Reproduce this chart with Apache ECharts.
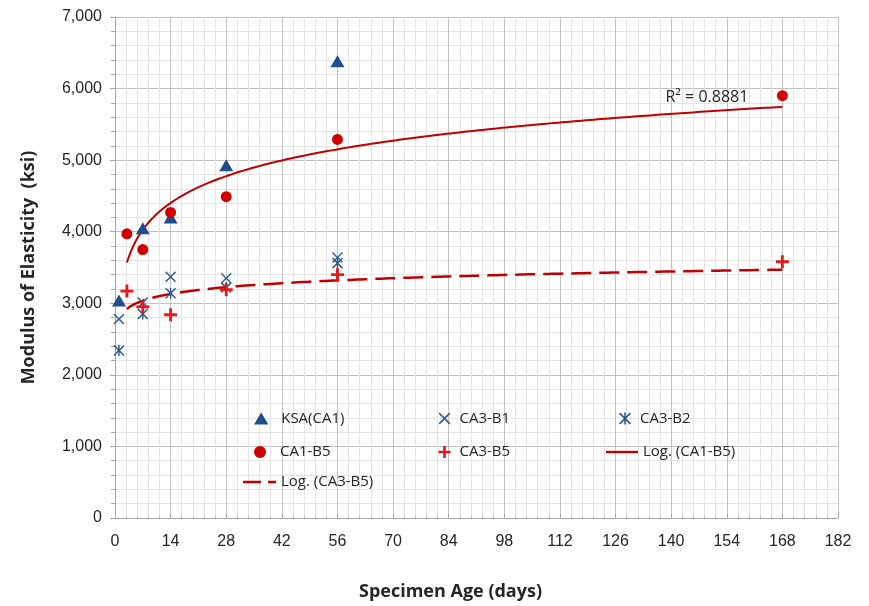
<!DOCTYPE html>
<html>
<head>
<meta charset="utf-8">
<script src="https://cdn.jsdelivr.net/npm/echarts@6/dist/echarts.min.js"></script>
<style>
  html, body { margin: 0; background: #fff; }
  #main { width: 869px; height: 606px; }
</style>
</head>
<body>
<div id="main"></div>
<script>
// data: [age in days, modulus in ksi]
const ksaCA1 = [[1, 3040], [7, 4050], [14, 4200], [28, 4930], [56, 6380]];
const ca1B5 = [[3, 3970], [7, 3750], [14, 4270], [28, 4490], [56, 5290], [168, 5900]];
const ca3B1 = [[1, 2780], [7, 3010], [14, 3370], [28, 3350], [56, 3640]];
const ca3B2 = [[1, 2340], [7, 2850], [14, 3140], [28, 3220], [56, 3560]];
const ca3B5 = [[3, 3170], [7, 2950], [14, 2840], [28, 3190], [56, 3400], [168, 3580]];

// log trendlines y = a*ln(x) + b, coefficients
const trendCA1B5 = { a: 540.4, b: 2976, from: 3, to: 168 };
const trendCA3B5 = { a: 136.1, b: 2772, from: 3, to: 168 };
const r2Label = 'R² = 0.8881';

const xTicks = { min: 0, max: 182, step: 14 };
const yTicks = { min: 0, max: 7000, step: 1000 };

function logCurve(t) {
  const pts = [];
  for (let x = t.from; x <= t.to; x += 0.5) {
    pts.push([x, t.a * Math.log(x) + t.b]);
  }
  return pts;
}

const TRI_PATH = 'path://M6,0L12,10L0,10Z';
const X_PATH = 'path://M1,0L5,4L9,0L10,1L6,5L10,9L9,10L5,6L1,10L0,9L4,5L0,1Z';
const STAR_PATH = 'path://M1,0L5,4L9,0L10,1L6,5L10,9L9,10L5,6L1,10L0,9L4,5L0,1Z M4.35,0L5.65,0L5.65,10L4.35,10Z';
const PLUS_PATH = 'path://M3.9,0L6.1,0L6.1,3.9L10,3.9L10,6.1L6.1,6.1L6.1,10L3.9,10L3.9,6.1L0,6.1L0,3.9L3.9,3.9Z';
const LINE_ICON = 'path://M0,0L32,0L32,2.4L0,2.4Z';
const DASH_ICON = 'path://M0,0L18,0L18,2.4L0,2.4Z M25,0L33,0L33,2.4L25,2.4Z';

const textFont = 'Open Sans';
const legendText = { fontFamily: textFont, fontSize: 15, color: '#262626' };

function legendAt(name, icon, left, top, w) {
  return {
    data: [{ name: name, icon: icon }], left: left, top: top,
    itemWidth: w, itemHeight: 12, padding: 0,
    textStyle: legendText, selectedMode: false
  };
}

const myChart = echarts.init(document.getElementById('main'));
const option = {
  animation: false,
  backgroundColor: '#fff',
  grid: { left: 115, right: 31, top: 17, bottom: 86 },
  legend: [
    legendAt('KSA(CA1)', TRI_PATH, 254, 411, 30),
    legendAt('CA3-B1', X_PATH, 438.5, 411, 20),
    legendAt('CA3-B2', STAR_PATH, 619, 411, 20),
    legendAt('CA1-B5', 'circle', 254, 444.5, 30),
    legendAt('CA3-B5', PLUS_PATH, 438.5, 444.5, 20),
    legendAt('Log. (CA1-B5)', LINE_ICON, 606, 444.5, 32),
    legendAt('Log. (CA3-B5)', DASH_ICON, 243, 474.5, 33)
  ],
  xAxis: {
    type: 'value',
    min: xTicks.min, max: xTicks.max, interval: xTicks.step,
    name: 'Specimen Age (days)',
    nameLocation: 'middle', nameGap: 65,
    nameTextStyle: {
      fontFamily: textFont, fontWeight: 'bold', fontSize: 18, color: '#262626',
      padding: [0, 52, 0, 0]
    },
    axisLine: { show: true, lineStyle: { color: '#a6a6a6' } },
    axisTick: { show: true, inside: true, length: 4, lineStyle: { color: '#a6a6a6' } },
    minorTick: { show: true, splitNumber: 5, length: 3, lineStyle: { color: '#bfbfbf' } },
    axisLabel: { fontFamily: 'Liberation Sans', fontSize: 16, color: '#262626', margin: 16 },
    splitLine: { show: true, lineStyle: { color: '#c2c2c2', width: 1 } },
    minorSplitLine: { show: true, lineStyle: { color: '#e4e4e4', width: 1 } }
  },
  yAxis: {
    type: 'value',
    min: yTicks.min, max: yTicks.max, interval: yTicks.step,
    name: 'Modulus of Elasticity  (ksi)',
    nameLocation: 'middle', nameGap: 77,
    nameTextStyle: { fontFamily: textFont, fontWeight: 'bold', fontSize: 18, color: '#262626' },
    axisLine: { show: true, lineStyle: { color: '#a6a6a6' } },
    axisTick: { show: true, length: 5, lineStyle: { color: '#a6a6a6' } },
    minorTick: { show: true, splitNumber: 5, length: 4, lineStyle: { color: '#a6a6a6' } },
    axisLabel: {
      fontFamily: 'Liberation Sans', fontSize: 16, color: '#262626', margin: 13,
      formatter: v => v.toLocaleString('en-US')
    },
    splitLine: { show: true, lineStyle: { color: '#c2c2c2', width: 1 } },
    minorSplitLine: { show: true, lineStyle: { color: '#e4e4e4', width: 1 } }
  },
  series: [
    {
      name: 'Log. (CA1-B5)', type: 'line', data: logCurve(trendCA1B5),
      symbol: 'none', z: 1,
      lineStyle: { color: '#c00000', width: 2 },
      itemStyle: { color: '#c00000' },
      markPoint: {
        symbol: 'circle', symbolSize: 0,
        data: [{ coord: [149, 5870], value: r2Label }],
        label: {
          show: true, position: 'inside', formatter: r2Label,
          fontFamily: textFont, fontSize: 16, color: '#262626'
        }
      }
    },
    {
      name: 'Log. (CA3-B5)', type: 'line', data: logCurve(trendCA3B5),
      symbol: 'none', z: 1,
      lineStyle: { color: '#c00000', width: 2.5, type: [20, 8] },
      itemStyle: { color: '#c00000' }
    },
    {
      name: 'KSA(CA1)', type: 'scatter', data: ksaCA1,
      symbol: TRI_PATH, symbolSize: [14, 12], z: 3,
      itemStyle: { color: '#1f4e8c', opacity: 1 }
    },
    {
      name: 'CA3-B1', type: 'scatter', data: ca3B1,
      symbol: X_PATH, symbolSize: 11, z: 3,
      itemStyle: { color: '#3a6596', opacity: 1 }
    },
    {
      name: 'CA3-B2', type: 'scatter', data: ca3B2,
      symbol: STAR_PATH, symbolSize: 11, z: 3,
      itemStyle: { color: '#2f5a8e', opacity: 1 }
    },
    {
      name: 'CA1-B5', type: 'scatter', data: ca1B5,
      symbol: 'circle', symbolSize: 11, z: 4,
      itemStyle: { color: '#d10000', opacity: 1 }
    },
    {
      name: 'CA3-B5', type: 'scatter', data: ca3B5,
      symbol: PLUS_PATH, symbolSize: 13, z: 4,
      itemStyle: { color: '#e31a1c', opacity: 1 }
    }
  ]
};
myChart.setOption(option);
window.addEventListener('resize', function () { myChart.resize(); });
</script>
</body>
</html>
